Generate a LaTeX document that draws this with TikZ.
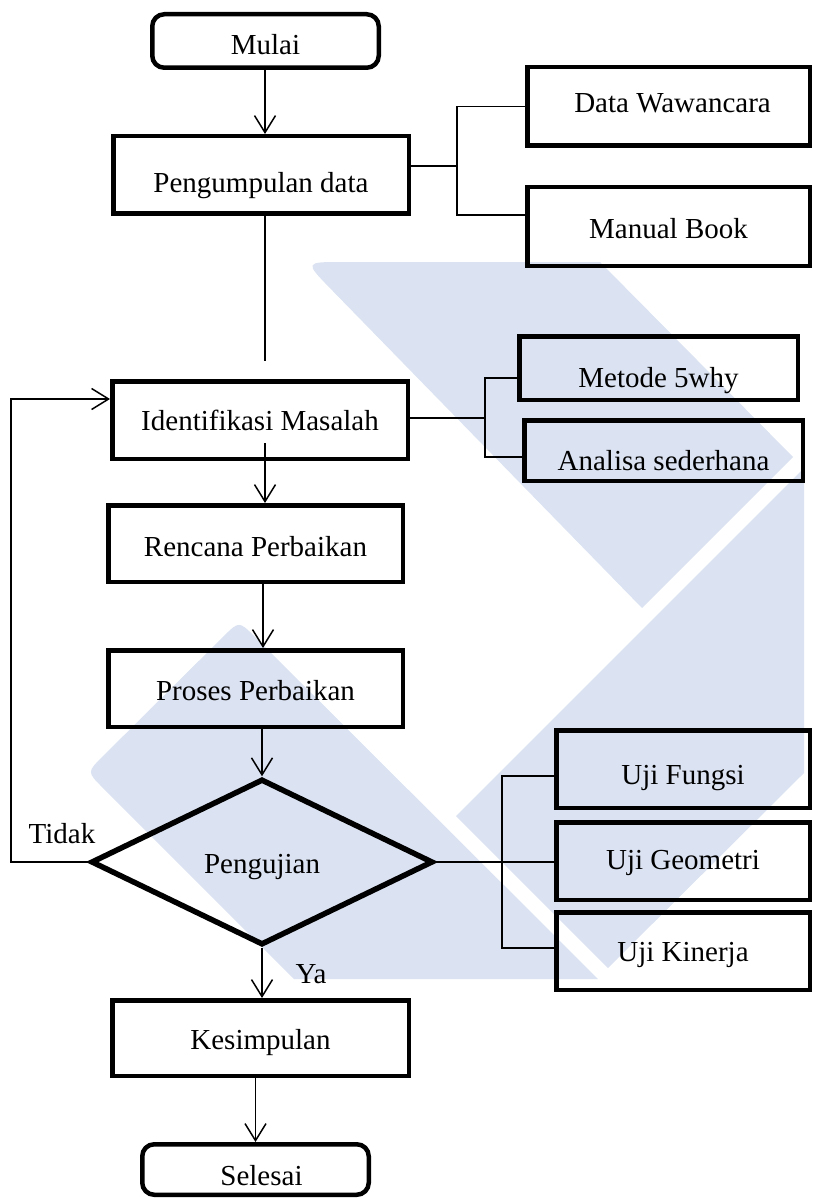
\documentclass[tikz,border=0pt]{standalone}
\usepackage{fontspec}
\setmainfont{Liberation Serif}
\usetikzlibrary{arrows.meta,shapes.geometric}
\definecolor{wmark}{RGB}{219,226,241}
% lower the printed text inside a box without changing the box size
\newcommand\txtdrop[2]{\raisebox{-#1pt}[\height][\depth]{#2}}

\begin{document}
\begin{tikzpicture}[x=1pt,y=-1pt,
  every node/.style={font=\fontsize{29}{33}\selectfont, inner sep=0pt},
  flowbox/.style={draw, rectangle, line width=4.5pt},
  termbox/.style={draw, rectangle, rounded corners=12pt, line width=4.5pt},
  decision/.style={draw, diamond, aspect=2, line width=5.5pt},
  link/.style={line width=1.5pt},
  arr/.style={link, -{Straight Barb[length=17pt,width=21pt]}},
  notelabel/.style={anchor=base}]

\useasboundingbox (0,0) rectangle (812,1198);

% background logo shapes
\fill[wmark] (342.5,262) -- (600,262) -- (793,457) -- (642,608) -- (331,289.2)
  .. controls (304.5,262) .. (342.5,262) -- cycle;
\fill[wmark] (804,468) -- (456,816) -- (608,968) -- (804,773) -- cycle;
\fill[wmark] (102.6,756.5) -- (223.4,636.5) .. controls (239,621) .. (254.6,636.5)
  -- (598,979) -- (294,979) -- (102.6,787.6) .. controls (87,772) .. (102.6,756.5) -- cycle;

% main column
\node[termbox, minimum width=226.5pt, minimum height=53.5pt] (mulai) at (265.5,41) {\txtdrop{4}{Mulai}};
\node[flowbox, minimum width=295.5pt, minimum height=77.5pt] (kumpul) at (261,175) {\txtdrop{11}{Pengumpulan data}};
\node[flowbox, minimum width=295.5pt, minimum height=77.5pt] (ident) at (260,420) {Identifikasi Masalah};
\node[flowbox, minimum width=294.5pt, minimum height=76.5pt] (rencana) at (255.5,543.5) {\txtdrop{3}{Rencana Perbaikan}};
\node[flowbox, minimum width=294.5pt, minimum height=76.5pt] (proses) at (255.5,688.5) {\txtdrop{2}{Proses Perbaikan}};
\node[decision, minimum width=342pt, minimum height=166pt] (uji) at (262,862) {\txtdrop{5}{Pengujian}};
\node[flowbox, minimum width=296.5pt, minimum height=75.5pt] (simpul) at (260.5,1038) {\txtdrop{5}{Kesimpulan}};
\node[termbox, minimum width=226.5pt, minimum height=50.5pt] (selesai) at (255.5,1169.5) {\txtdrop{6}{\hspace*{12pt}Selesai}};

% side boxes
\node[flowbox, minimum width=282.5pt, minimum height=78.5pt] (wawan) at (668.5,106.5) {\txtdrop{-3}{\hspace*{8pt}Data Wawancara}};
\node[flowbox, minimum width=282.5pt, minimum height=78.5pt] (manual) at (668.5,226.5) {\txtdrop{2}{Manual Book}};
\node[flowbox, minimum width=278.5pt, minimum height=63.5pt] (metode) at (658.5,368) {\txtdrop{13}{Metode 5why}};
\node[flowbox, minimum width=278.5pt, minimum height=60.5pt] (analisa) at (663.5,450.5) {\txtdrop{10}{Analisa sederhana}};
\node[flowbox, minimum width=253.5pt, minimum height=77.5pt] (fungsi) at (683,769) {\txtdrop{9}{Uji Fungsi}};
\node[flowbox, minimum width=253.5pt, minimum height=77.5pt] (geom) at (683,861) {\txtdrop{2}{Uji Geometri}};
\node[flowbox, minimum width=253.5pt, minimum height=77.5pt] (kinerja) at (683,951) {\txtdrop{4}{Uji Kinerja}};

% branch labels
\node[notelabel] (tidak) at (62,843) {Tidak};
\node[notelabel] (ya) at (311,983) {Ya};

% helper points for the connectors
\coordinate (colA) at (265,0);
\coordinate (colB) at (263,0);
\coordinate (k1) at (457,166);
\coordinate (k2) at (265,361);
\coordinate (k3) at (485,418);
\coordinate (k5) at (502,863);
\coordinate (k6) at (11,863);
\coordinate (i0) at ([xshift=5pt,yshift=18pt]ident.south);

% connectors
\draw[arr] (mulai.south -| colA) -- (kumpul.north -| colA);
\draw[link] (kumpul.east |- k1) -- (k1);
\draw[link] (wawan.west) -| (k1) |- ([yshift=11.5pt]manual.west);
\draw[link] (k2 |- kumpul.south) -- (k2);
\draw[arr] (i0) -- (i0 |- rencana.north);
\draw[link] (ident.east |- k3) -- (k3);
\draw[link] ([yshift=-10pt]metode.west) -| (k3) |- ([yshift=-6.5pt]analisa.west);
\draw[arr] (rencana.south -| colB) -- (proses.north -| colB);
\draw[arr] (proses.south -| uji.north) -- (uji.north);
\draw[link] (uji.east) -- (uji.east -| geom.west);
\draw[link] ([yshift=-7pt]fungsi.west) -| (k5) |- ([yshift=3pt]kinerja.west);
\draw[arr] (uji.west) -- (uji.west -| k6) |- ([yshift=21pt]ident.west);
\draw[arr] (uji.south) -- (uji.south |- simpul.north);
\draw[arr] (simpul.south -| selesai.north) -- (selesai.north);
\end{tikzpicture}
\end{document}
